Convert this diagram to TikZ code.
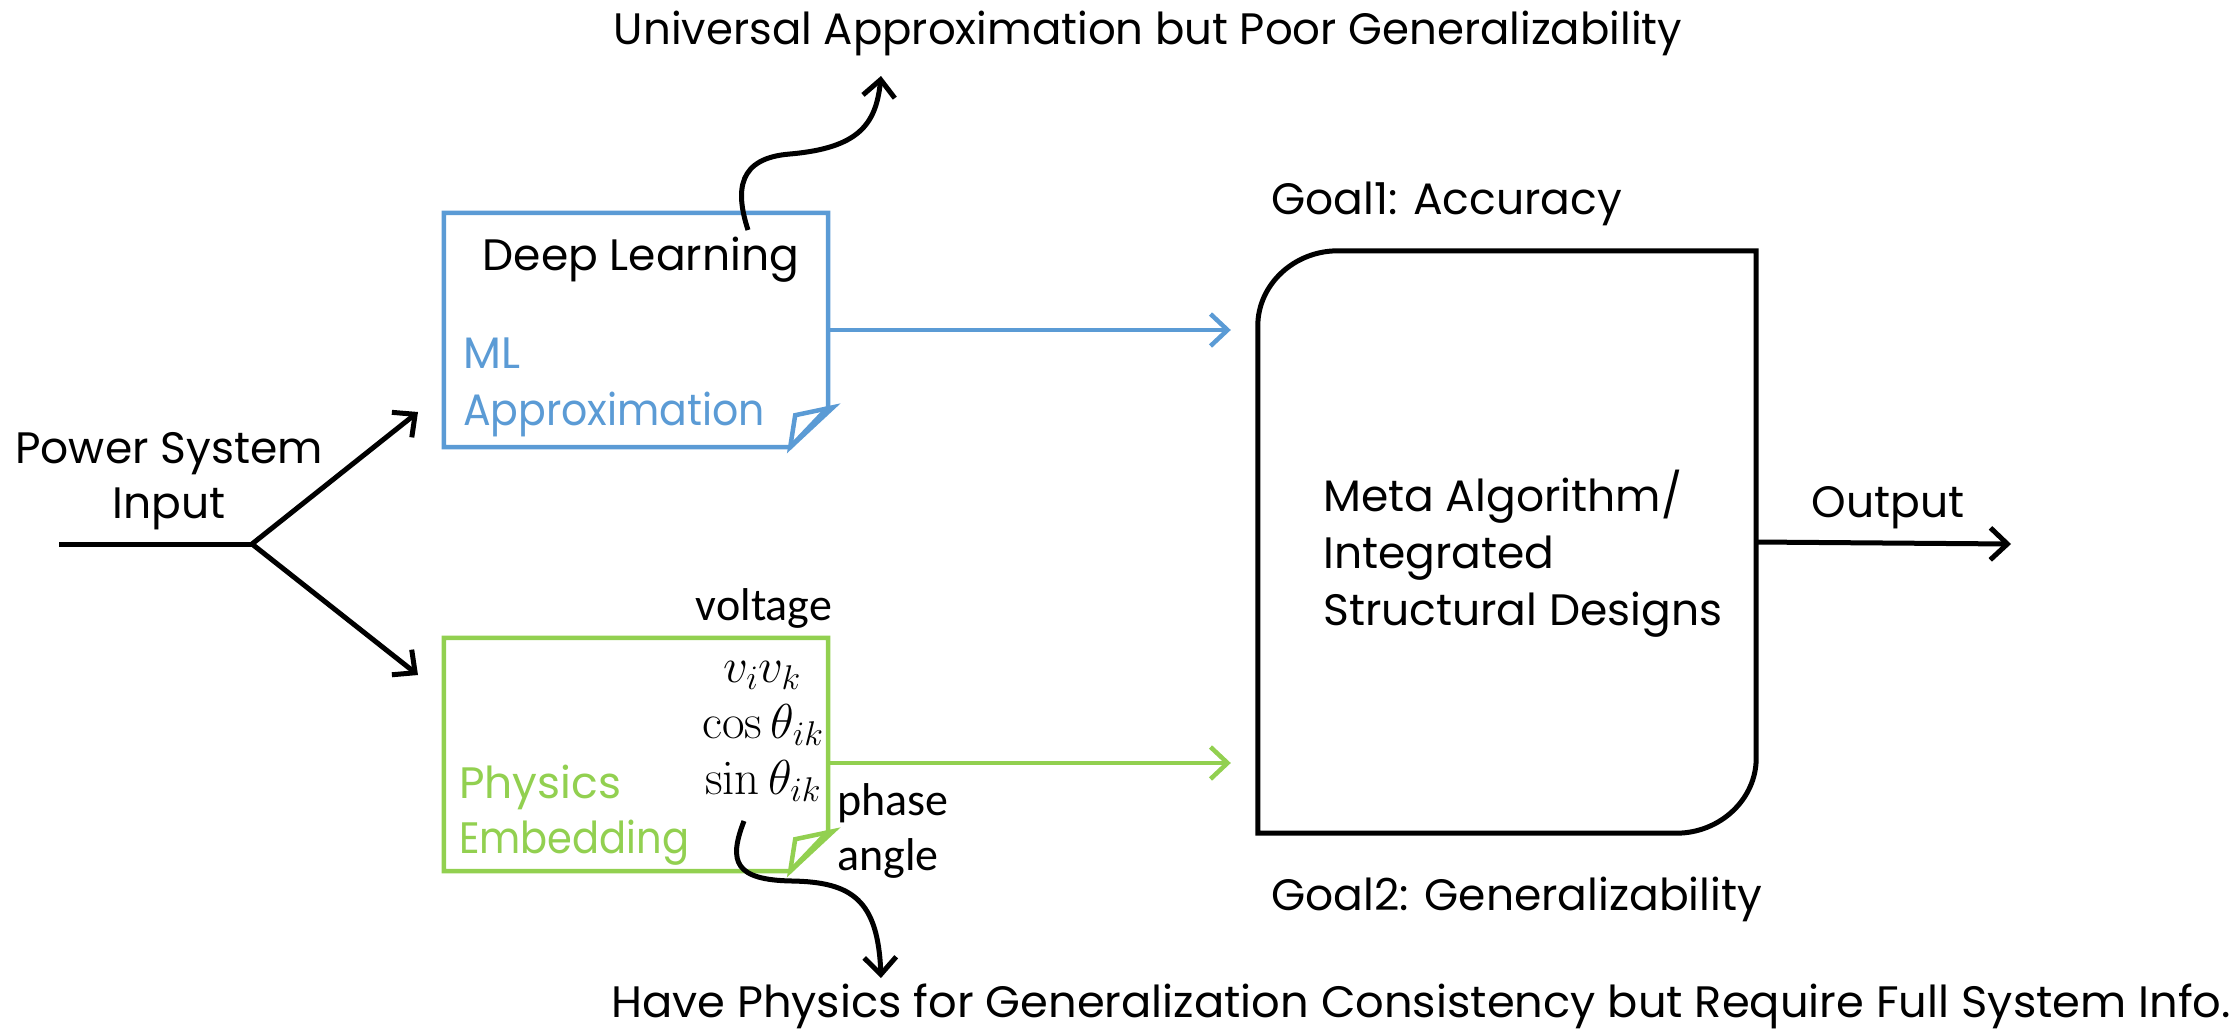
\RequirePackage{fix-cm}
\documentclass[tikz,border=0pt]{standalone}
\usepackage[no-math]{fontspec}
\usepackage{graphicx}
\setmainfont{Poppins}
\newfontfamily\calibri{Carlito}
\usetikzlibrary{arrows.meta,calc}
\definecolor{mlblue}{HTML}{5B9BD5}
\definecolor{phgreen}{HTML}{92D050}

\begin{document}
\begin{tikzpicture}[x=1pt,y=-1pt,
  comic/.style={font=\fontsize{44}{57}\selectfont, inner sep=0pt},
  calib/.style={font=\calibri\fontsize{46}{57}\selectfont, inner sep=0pt},
  mathlbl/.style={font=\fontsize{49}{57}\selectfont, inner sep=0pt},
  boxline/.style={line width=4.5pt, line join=miter},
  flow/.style={line width=5pt, -{Straight Barb[length=17pt,width=32pt]}},
  frame/.style={draw=none, inner sep=0pt},
]
\fill[white] (0,0) rectangle (2239,1034);
\useasboundingbox (0,0) rectangle (2239,1034);

% ---- input fork ----
\node[comic, anchor=base] (in1) at (169,463) {Power System};
\node[comic, anchor=base] (in2) at (169,518) {Input};
\coordinate (src) at (59,544);
\coordinate (fork) at (252,544);
\coordinate (tipDL) at (418,412);
\coordinate (tipPE) at (418,675);
\draw[line width=5pt] (src) -- (fork);
\draw[flow] (fork) -- (tipDL);
\draw[flow] (fork) -- (tipPE);

% ---- deep learning note ----
\node[frame, minimum width=384pt, minimum height=234pt] (dl) at (636,330) {};
\draw[mlblue, boxline] (dl.north west) -- (dl.north east) -- ($(dl.south east)+(0,-40)$)
  -- ($(dl.south east)+(-38,0)$) -- (dl.south west) -- cycle;
\draw[mlblue, boxline] ($(dl.south east)+(-38,0)$) -- ($(dl.south east)+(-33,-32)$)
  -- ($(dl.south east)+(5,-40)$) -- cycle;
\node[comic, anchor=base] (dltitle) at (641,270) {Deep Learning};
\node[comic, anchor=base west, text=mlblue] (ml1) at (463,368) {ML};
\node[comic, anchor=base west, text=mlblue] (ml2) at (463,425) {\resizebox{302pt}{\height}{Approximation}};

% ---- physics embedding note ----
\node[frame, minimum width=384pt, minimum height=233pt] (pe) at (636,754.5) {};
\draw[phgreen, boxline] (pe.north west) -- (pe.north east) -- ($(pe.south east)+(0,-40)$)
  -- ($(pe.south east)+(-38,0)$) -- (pe.south west) -- cycle;
\draw[phgreen, boxline] ($(pe.south east)+(-38,0)$) -- ($(pe.south east)+(-33,-32)$)
  -- ($(pe.south east)+(5,-40)$) -- cycle;
\node[comic, anchor=base west, text=phgreen] (ph1) at (459,798) {Physics};
\node[comic, anchor=base west, text=phgreen] (ph2) at (459,853) {\resizebox{230pt}{\height}{Embedding}};
\node[calib, anchor=base] (volt) at (764,620) {voltage};
\node[mathlbl, anchor=base] (vv) at (762,682) {$v_i v_k$};
\node[mathlbl, anchor=base] (cosl) at (763,738) {$\cos\theta_{ik}$};
\node[mathlbl, anchor=base] (sinl) at (763,794) {$\sin\theta_{ik}$};
\node[calib, anchor=base west] (ph) at (837,815) {phase};
\node[calib, anchor=base west] (ang) at (837,870) {angle};

% ---- meta algorithm block (two rounded diagonal corners) ----
\node[frame, minimum width=498pt, minimum height=582pt] (meta) at (1507,542) {};
\draw[line width=5pt]
  ($(meta.north west)+(0,75)$) .. controls ($(meta.north west)+(0,34)$) and ($(meta.north west)+(36,0)$) .. ($(meta.north west)+(80,0)$)
  -- (meta.north east)
  -- ($(meta.south east)+(0,-75)$) .. controls ($(meta.south east)+(0,-34)$) and ($(meta.south east)+(-36,0)$) .. ($(meta.south east)+(-80,0)$)
  -- (meta.south west) -- cycle;
\node[comic, anchor=base west] (mt1) at (1323,511) {Meta Algorithm/};
\node[comic, anchor=base west] (mt2) at (1323,568) {Integrated};
\node[comic, anchor=base west] (mt3) at (1323,625) {Structural Designs};
\node[comic, anchor=base west] (goal1) at (1271,214) {Goal1: Accuracy};
\node[comic, anchor=base west] (goal2) at (1271,910) {Goal2: Generalizability};

% ---- connectors into and out of the block ----
\draw[flow, mlblue, line width=4.5pt, shorten >=27pt] (dl.east) -- (dl.east -| meta.west);
\draw[flow, phgreen, line width=4.5pt, shorten >=27pt] ($(pe.east)+(0,8.5)$) -- ($(pe.east -| meta.west)+(0,8.5)$);
\coordinate (out) at (2011,544);
\draw[flow] (meta.east) -- (out);
\node[comic, anchor=base] (outlbl) at (1888,517) {Output};

% ---- remarks on each branch ----
\node[comic, anchor=base] (topnote) at (1148,44)
  {\resizebox{1068pt}{\height}{Universal Approximation but Poor Generalizability}};
\node[comic, anchor=base] (botnote) at (1421,1017)
  {\resizebox{1620pt}{\height}{Have Physics for Generalization Consistency but Require Full System Info.}};
\coordinate (dlTail) at (748,230);
\coordinate (topTip) at (881,76);
\draw[flow] (dlTail) .. controls (735,190) and (738,158) .. (790,154)
  .. controls (858,148) and (876,125) .. (topTip);
\coordinate (peTail) at (744,821);
\coordinate (botTip) at (881,978);
\draw[flow] (peTail) .. controls (728,862) and (735,880) .. (792,881)
  .. controls (852,882) and (878,900) .. (botTip);
\end{tikzpicture}
\end{document}
